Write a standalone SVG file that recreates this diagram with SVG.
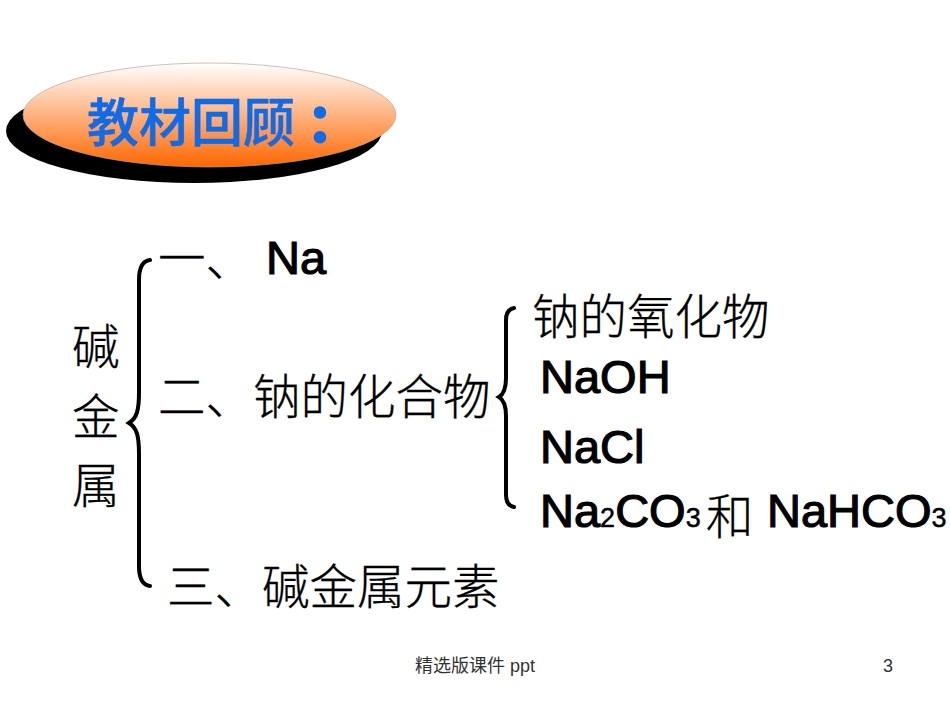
<svg xmlns="http://www.w3.org/2000/svg" width="950" height="713" viewBox="0 0 950 713">
<style>
.cjk{font-family:"Noto Sans CJK SC","Liberation Sans",sans-serif;font-size:47.500px;fill:#000;font-weight:300;stroke:#000;stroke-width:0.300}
.lat{font-family:"Liberation Sans","Noto Sans CJK SC",sans-serif;font-size:47px;fill:#000;stroke:#000;stroke-width:1.200}
.sub{font-size:27px;stroke-width:0.500}
.foot{font-family:"Liberation Sans","Noto Sans CJK SC",sans-serif;font-size:18px;fill:#333}
.brace{fill:none;stroke:#000;stroke-width:4;stroke-linecap:round}
</style>
<defs>
<linearGradient id="g" x1="0" y1="0" x2="0" y2="1">
<stop offset="0" stop-color="#ffffff"/>
<stop offset="1" stop-color="#ff6600"/>
</linearGradient>
</defs>
<rect width="950" height="713" fill="#fff"/>
<g id="title">
<ellipse cx="194" cy="131" rx="188" ry="52" fill="#000"/>
<ellipse cx="209.500" cy="115" rx="186.500" ry="52" fill="url(#g)" stroke="#b9a79a" stroke-width="0.700"/>
<text x="87" y="142" font-family="Noto Sans CJK SC,sans-serif" font-size="52" font-weight="500" fill="#0f6be8" stroke="#0f6be8" stroke-width="0.500">教材回顾<tspan dx="12" font-weight="900" stroke-width="1.500">：</tspan></text>
</g>
<g id="root"><text class="cjk" x="72" y="364">碱</text><text class="cjk" x="72" y="434">金</text><text class="cjk" x="72" y="503">属</text></g>
<g id="connectors">
<path class="brace" d="M150 260C142 261 139 268 139 280V392C139 410 137 418 129 423C137 428 139 436 139 454V566C139 578 142 585 150 586"/>
<path class="brace" d="M514 308C509 309 506 313 506 320V378C506 389 504 394 499 397C504 400 506 405 506 416V495C506 502 509 506 514 507"/>
</g>
<g id="item1"><text class="cjk" x="158" y="276">一、</text><text class="lat" x="266" y="274">Na</text></g>
<g id="item2"><text class="cjk" x="158" y="414">二、钠的化合物</text></g>
<g id="item3"><text class="cjk" x="167" y="604">三、碱金属元素</text></g>
<g id="oxide"><text class="cjk" x="532" y="334">钠的氧化物</text></g>
<g id="naoh"><text class="lat" x="540" y="393">NaOH</text></g>
<g id="nacl"><text class="lat" x="540" y="463">NaCl</text></g>
<g id="carbonates"><text class="lat" x="540" y="527">Na<tspan class="sub">2</tspan>CO<tspan class="sub">3</tspan></text><text class="cjk" x="706" y="534">和</text><text class="lat" x="767" y="527">NaHCO<tspan class="sub">3</tspan></text></g>
<g id="footer"><text class="foot" x="475" y="672" text-anchor="middle">精选版课件 ppt</text><text class="foot" x="883" y="672">3</text></g>
</svg>
